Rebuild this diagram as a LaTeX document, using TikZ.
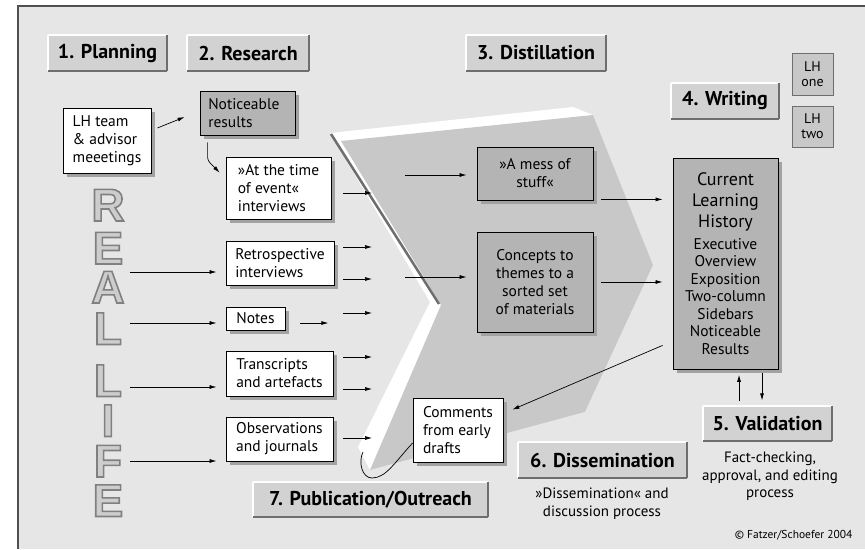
\documentclass[tikz,border=0pt]{standalone}
\usepackage{fontspec}
\setmainfont{PT Sans}
\newfontfamily\letterfont{Liberation Sans}
\usetikzlibrary{
  arrows.meta,
  positioning,
  calc,
  shadows
}
\definecolor{lhBack}{HTML}{E6E6E6}
\definecolor{lhFrame}{HTML}{505050}
\definecolor{lhPhase}{HTML}{D2D2D2}
\definecolor{lhDark}{HTML}{B4B4B4}
\definecolor{lhFace}{HTML}{C8C8C8}
\definecolor{lhEdge}{HTML}{6E6E6E}
\definecolor{lhShadow}{HTML}{A2A2A2}
\definecolor{lhLetter}{HTML}{CDCDCD}

% outlined capitals for the REAL LIFE column
\newcommand\hollow[1]{\special{pdf:literal direct 2 Tr 1.6 w 0.5 G}#1\special{pdf:literal direct 0 Tr}}

\tikzset{
  body/.style={font=\fontsize{15.5}{18}\selectfont},
  boxshadow/.style={drop shadow={shadow xshift=4pt, shadow yshift=-4pt, fill=lhShadow, opacity=1}},
  phase/.style={fill=lhPhase, inner sep=0pt, font=\fontsize{20}{22}\selectfont\bfseries,
    append after command={
      (\tikzlastnode.south west) edge[draw=white, line width=2pt] (\tikzlastnode.north west)
      (\tikzlastnode.north west) edge[draw=white, line width=2pt] (\tikzlastnode.north east)
      (\tikzlastnode.north east) edge[draw=lhEdge, line width=2pt] (\tikzlastnode.south east)
      (\tikzlastnode.south east) edge[draw=lhEdge, line width=2pt] (\tikzlastnode.south west)}},
  source/.style={body, draw=black, fill=white, line width=0.8pt, align=left,
    inner xsep=6pt, inner ysep=0pt, boxshadow},
  result/.style={body, draw=black, fill=lhDark, line width=0.8pt, align=center,
    inner xsep=6pt, inner ysep=0pt, boxshadow},
  lhtag/.style={draw=lhEdge, fill=lhFace, line width=0.8pt, align=center, inner sep=0pt,
    font=\fontsize{14}{15}\selectfont, minimum width=41pt},
  letter/.style={font=\letterfont\bfseries\fontsize{46}{46}\selectfont, inner sep=0pt,
    text=lhLetter, text height=33pt, text depth=0pt},
  flow/.style={-{Latex[length=7pt,width=4pt]}, line width=0.7pt}
}

\begin{document}
\begin{tikzpicture}[x=1pt, y=-1pt]
  \useasboundingbox (0,0) rectangle (865,549);
  \fill[white] (0,0) rectangle (865,549);
  \fill[lhBack] (18,6) rectangle (866,549);
  \draw[lhFrame, line width=2.5pt] (18,549) -- (18,6) -- (866,6);

  % the distillation chevron
  \fill[white] (330,133) -- (573,107) -- (593,115) -- (653,265) -- (585,412)
    -- (370,470) -- (358,447) -- (430,302) -- cycle;
  \fill[lhFace] (341,141) -- (593,115) -- (653,265) -- (585,412)
    -- (370,470) -- (441,305) -- cycle;
  \draw[lhEdge, line width=2.5pt] (331,134) -- (439,304);

  % REAL LIFE
  \foreach \ch/\yy [count=\i] in {R/204.5,E/247.5,A/286.5,L/328,L/380,I/420,F/460.5,E/500}
    \node[letter] (rl-\i) at (108,\yy) {\hollow{\ch}};

  % phases
  \node[phase, minimum width=119pt, minimum height=36pt] (plan) at (107.5,53) {1. Planning};
  \node[phase, minimum width=122pt, minimum height=36pt] (research) at (248,53) {2. Research};
  \node[phase, minimum width=140pt, minimum height=36pt] (distil) at (536,53) {3. Distillation};
  \node[phase, minimum width=108pt, minimum height=36pt] (writing) at (725,101) {4. Writing};
  \node[phase, minimum width=129pt, minimum height=35pt] (valid) at (767.5,423.5) {5. Validation};
  \node[phase, minimum width=169pt, minimum height=36pt] (dissem) at (602.5,460) {6. Dissemination};
  \node[phase, minimum width=235pt, minimum height=35pt] (public) at (370.5,499.5) {7. Publication/Outreach};

  \node[lhtag, minimum height=42pt] (lhone) at (812.5,74) {LH\\one};
  \node[lhtag, minimum height=41pt] (lhtwo) at (812.5,126.5) {LH\\two};

  % research material
  \node[source, minimum width=88pt, minimum height=65pt] (team) at (107,140.5)
    {LH team\\\& advisor\\meeetings};
  \node[result, align=left, minimum width=95pt, minimum height=44pt] (notice)
    at (247.5,113) {Noticeable\\results\hspace*{2.2em}};
  \node[source, minimum width=105pt, minimum height=62pt] (attime) at (278.5,188)
    {»At the time\\of event«\\interviews\hspace*{0.8em}};
  \node[source, minimum width=108pt, minimum height=44pt] (retro) at (280,263)
    {Retrospective\\interviews};
  \node[source, minimum width=59pt, minimum height=23pt] (notes) at (255.5,318.5) {Notes};
  \node[source, minimum width=107pt, minimum height=45pt] (transcr) at (279.5,373.5)
    {Transcripts\\and artefacts};
  \node[source, minimum width=107pt, minimum height=44pt] (observ) at (279.5,439)
    {Observations\\and journals};
  \node[source, minimum width=90pt, minimum height=64pt] (comments) at (458,430)
    {Comments\\from early\\drafts};

  \node[result, minimum width=116pt, minimum height=53pt] (mess) at (535,173.5)
    {»A mess of\\stuff«};
  \node[result, minimum width=116pt, minimum height=100pt] (concepts) at (535,282)
    {Concepts to\\themes to a\\sorted set\\of materials};
  \node[result, inner xsep=5pt, text width=95pt, minimum height=211pt] (current) at (725.5,263.5)
    {\fontsize{18}{21}\selectfont Current\\Learning\\History\par
     \vspace{4pt}\fontsize{15.5}{17.5}\selectfont
     Executive\\Overview\\Exposition\\Two-column\\Sidebars\\Noticeable\\Results\par};

  \node[body, align=center, font=\fontsize{15}{18}\selectfont] (dissem-txt) at (602,504)
    {»Dissemination« and\\discussion process};
  \node[body, align=center, font=\fontsize{15}{17.5}\selectfont] (valid-txt) at (770,476.5)
    {Fact-checking,\\approval, and editing\\process};
  \node[anchor=east, font=\fontsize{11.5}{13}\selectfont] (copy) at (856,535)
    {© Fatzer/Schoefer 2004};

  % connectors
  \draw[flow] ($(team.east)+(6,-12.5)$) -- ($(notice.west)+(-15,4)$);
  \draw[flow, rounded corners=3pt] ($(notice.south west)+(8,7)$) -- ++(0,18)
    -- ($(attime.north west)+(-6,16)$);

  \foreach \yy/\dest in {272/retro, 323/notes, 387/transcr, 461/observ}{
    \coordinate (life-\dest) at (130,\yy);
    \draw[flow, shorten >=9pt] (life-\dest) -- (life-\dest -| \dest.west);
  }

  \foreach \yy [count=\i] in {193,247,279,313,357,389,438}{
    \coordinate (feed-\i) at (343,\yy);
    \coordinate (into-\i) at (372,\yy);
    \draw[flow] (feed-\i) -- (into-\i);
  }
  \draw[flow] ($(notes.east)+(15,4.5)$) -- ++(28,0);

  \coordinate (mess-in) at (405,175);
  \coordinate (concepts-in) at (405,277);
  \draw[flow, shorten >=10pt] (mess-in) -- (mess-in -| mess.west);
  \draw[flow, shorten >=10pt] (concepts-in) -- (concepts-in -| concepts.west);

  \draw[flow] ($(mess.south east)+(8,-1)$) -- ($(current.west |- mess.south)+(-10,-1)$);
  \draw[flow, shorten <=8pt, shorten >=10pt] (concepts.east) -- (concepts.east -| current.west);
  \draw[flow] ($(current.south west)+(-10,-24)$) -- ($(comments.north east)+(9,12)$);

  \draw[flow] ($(valid.north)+(-28.5,-5)$) -- ++(0,-26);
  \draw[flow] ($(current.south)+(36.5,4)$) -- ++(0,27);

  \coordinate (tail) at (363,452);
  \draw[line width=0.7pt] ($(comments.west)+(0,13)$) .. controls (395,462) and (386,478)
    .. (372,478) .. controls (362,478) and (358,462) .. (tail);
\end{tikzpicture}
\end{document}
